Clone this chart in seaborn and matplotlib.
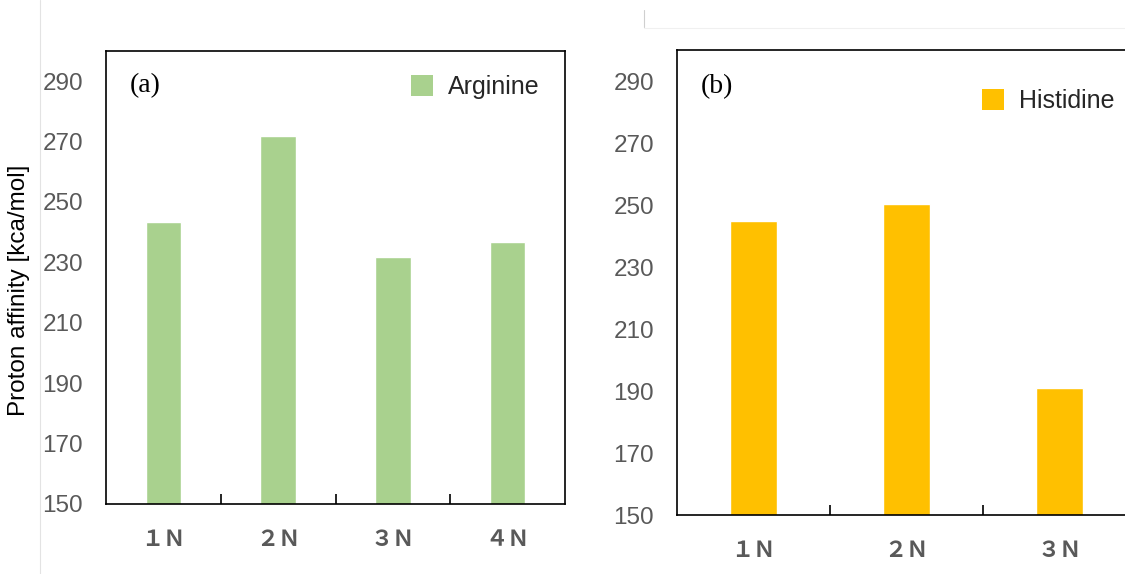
import matplotlib
matplotlib.use("Agg")
import matplotlib.pyplot as plt
import seaborn as sns
import pandas as pd
from matplotlib.patches import Patch
from matplotlib.lines import Line2D
from matplotlib.ticker import FixedLocator

# ---- data ----
arg_labels = ["１Ｎ", "２Ｎ", "３Ｎ", "４Ｎ"]
arg_values = [243.5, 272.0, 231.7, 236.6]
his_labels = ["１Ｎ", "２Ｎ", "３Ｎ"]
his_values = [244.7, 250.2, 190.9]
y_ticks = [150, 170, 190, 210, 230, 250, 270, 290]
ylabel = "Proton affinity [kca/mol]"

sns.set_style("white")
plt.rcParams["font.family"] = ["Liberation Sans", "DejaVu Sans"]

fig = plt.figure(figsize=(11.25, 5.74), dpi=100)
axA = fig.add_axes([106/1125, 70/574, 459/1125, 453/574])
axB = fig.add_axes([677/1125, 59/574, 459/1125, 465/574])

def draw(ax, labels, values, color, tag, name, tag_y, leg_anchor):
    df = pd.DataFrame({"cat": labels, "val": values})
    sns.barplot(data=df, x="cat", y="val", color=color, width=0.31,
                saturation=1, ax=ax)
    ax.set_ylim(150, 300)
    ax.set_xlim(-0.5, len(labels) - 0.5)
    ax.set_yticks(y_ticks)
    ax.tick_params(axis="y", length=0, pad=16.5, labelsize=17.5,
                   labelcolor="#595959")
    ax.tick_params(axis="x", which="major", length=0, pad=17)
    ax.xaxis.set_minor_locator(FixedLocator([i + 0.5 for i in range(len(labels) - 1)]))
    ax.tick_params(axis="x", which="minor", direction="in", length=7,
                   width=1.2, color="black", bottom=True)
    for lab in ax.get_xticklabels():
        lab.set_fontfamily(["Noto Sans CJK JP", "DejaVu Sans"])
        lab.set_fontsize(16)
        lab.set_fontweight("bold")
        lab.set_color("#595959")
    ax.set_xlabel("")
    ax.set_ylabel("")
    for sp in ax.spines.values():
        sp.set_visible(True)
        sp.set_color("black")
        sp.set_linewidth(1.2)
    ax.text(0.052, tag_y, tag, transform=ax.transAxes, ha="left", va="center",
            fontsize=20, family="Liberation Serif", color="black")
    ax.legend(handles=[Patch(facecolor=color, edgecolor="none", label=name)],
              loc="center right", bbox_to_anchor=leg_anchor, frameon=False,
              fontsize=18, handlelength=0.88, handleheight=0.88,
              handletextpad=0.6, borderpad=0, borderaxespad=0)

draw(axA, arg_labels, arg_values, "#A9D18E", "(a)", "Arginine",
     1 - 35/453, (1 - 25/459, 1 - 36/453))
draw(axB, his_labels, his_values, "#FFC000", "(b)", "Histidine",
     1 - 37/465, (1 - 21/459, 1 - 51/465))

axA.set_ylabel(ylabel, fontsize=17.5, color="black")
axA.yaxis.set_label_coords(-0.166, 0.471)

# faint decorative lines present in the reference
fig.add_artist(Line2D([40/1125, 40/1125], [0, 1], color="#e3e3e3", lw=0.8))
fig.add_artist(Line2D([644/1125, 644/1125], [1 - 10/574, 1 - 27/574], color="#cfcfcf", lw=0.8))
fig.add_artist(Line2D([644/1125, 1], [1 - 28/574, 1 - 28/574], color="#f0f0f0", lw=0.8))

fig.savefig("out.png", dpi=100)
